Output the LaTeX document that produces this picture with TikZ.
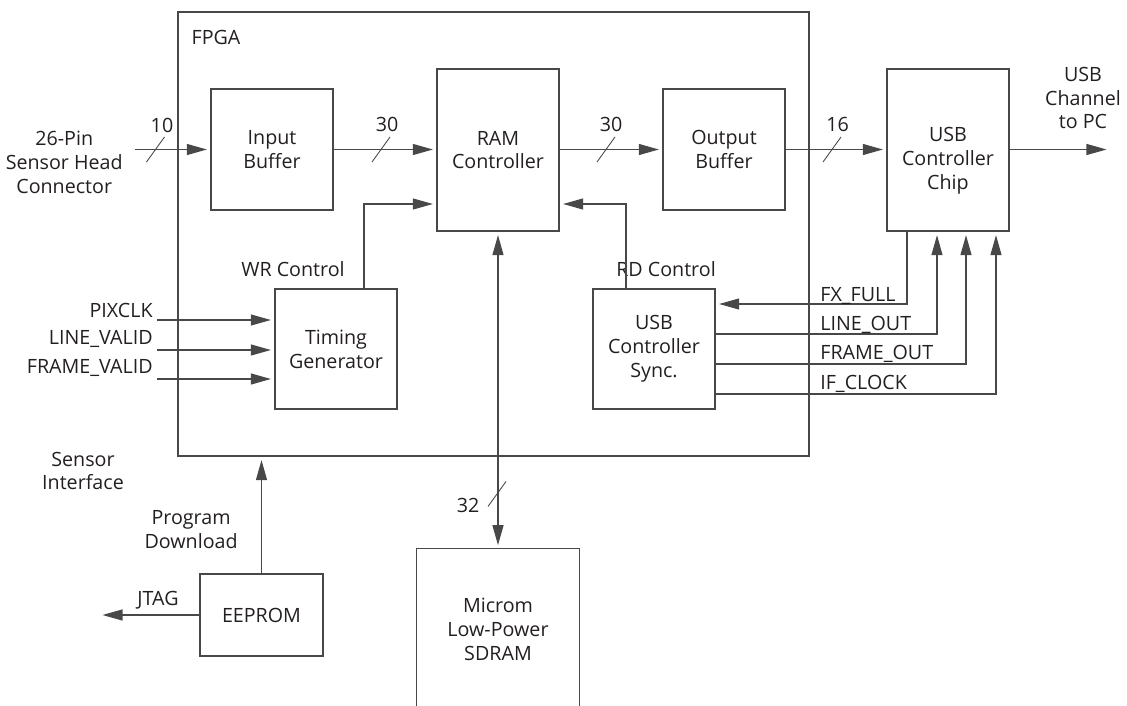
\documentclass[tikz,border=0pt]{standalone}
\usepackage{fontspec}
\setmainfont{Open Sans}
\usetikzlibrary{arrows.meta}
\definecolor{linegray}{RGB}{72,72,72}
\definecolor{textblack}{RGB}{35,31,32}
\newcommand{\blkfont}{\fontsize{11.2}{13.6}\selectfont}
\tikzset{
	blk/.style={draw=linegray, line width=0.75pt, align=center, inner sep=0pt, text=textblack},
	lbl/.style={inner sep=0pt, align=center, text=textblack},
	sig/.style={draw=linegray, line width=0.7pt, -{Triangle[length=0.4cm,width=0.22cm]}, shorten >=2pt},
	buswidth/.pic={\draw[linegray, line width=0.5pt] (-9,12.5) -- (9,-12.5);}
}

\begin{document}
\begin{tikzpicture}[x=0.02cm, y=-0.02cm, font=\blkfont]
			\useasboundingbox (0,0) rectangle (1127,706);
			%FPGA
			\node[blk, minimum width=12.62cm, minimum height=8.88cm] (fpga) at (493.5,234) {};
			\node[lbl] (fpgatxt) at (216,37) {FPGA};
			%Top row
			\node[blk, minimum width=2.44cm, minimum height=2.42cm] (inbuf) at (272,149.5) {Input\\Buffer};
			\node[blk, minimum width=2.44cm, minimum height=3.24cm] (ram) at (498,150) {RAM\\Controller};
			\node[blk, minimum width=2.44cm, minimum height=2.42cm] (outbuf) at (724,149.5) {Output\\Buffer};
			\node[blk, minimum width=2.44cm, minimum height=3.24cm] (usbchip) at (948,150) {};
			\node[lbl] (usbchiptxt) at (948,161) {USB\\Controller\\Chip};
			%Control row
			\node[blk, minimum width=2.44cm, minimum height=2.4cm] (timing) at (336,349) {Timing\\Generator};
			\node[blk, minimum width=2.44cm, minimum height=2.4cm] (sync) at (654,349) {USB\\Controller\\Sync.};
			\node[lbl] (wrtxt) at (293,269) {WR Control};
			\node[lbl] (rdtxt) at (666,269) {RD Control};
			%Outside
			\node[blk, minimum width=2.46cm, minimum height=1.64cm] (eeprom) at (261.5,615) {EEPROM};
			\node[lbl, minimum width=3.24cm, minimum height=3.2cm] (sdram) at (498,629) {Microm\\Low-Power\\SDRAM};
			\draw[linegray, line width=0.75pt] (sdram.south west) -- (sdram.north west) -- (sdram.north east) -- (sdram.south east);
			
			%Data path
			\coordinate (sensin) at (135,149.5);
			\coordinate (usbout) at (1110,149.5);
			\draw[sig] (sensin) -- (inbuf.west);
			\draw[sig] (inbuf.east) -- (inbuf.east -| ram.west);
			\draw[sig] (ram.east |- outbuf.west) -- (outbuf.west);
			\draw[sig] (outbuf.east) -- (outbuf.east -| usbchip.west);
			\draw[sig] (usbchip.east |- usbout) -- (usbout);
			\pic at (155.5,149.5) {buswidth};
			\pic at (381,149.5) {buswidth};
			\pic at (606,149.5) {buswidth};
			\pic at (832,149.5) {buswidth};
			\node[lbl] (w10) at (162,125) {10};
			\node[lbl] (w30a) at (387,124) {30};
			\node[lbl] (w30b) at (611,124) {30};
			\node[lbl] (w16) at (837.5,124) {16};
			\node[lbl, anchor=east] (senstxt) at (123,162) {26-Pin\\Sensor Head\\Connector};
			\node[lbl] (usbouttxt) at (1083,98) {USB\\Channel\\to PC};
			
			%WR / RD control
			\coordinate (wrbend) at (364,204);
			\coordinate (rdbend) at (626,204);
			\draw[sig] (timing.north -| wrbend) |- (ram.west |- wrbend);
			\draw[sig] (sync.north -| rdbend) |- (ram.east |- rdbend);
			
			%SDRAM bus
			\draw[sig, {Triangle[length=0.4cm,width=0.22cm]}-{Triangle[length=0.4cm,width=0.22cm]}, shorten <=2pt] (ram.south) -- (sdram.north);
			\pic at (497,494) {buswidth};
			\node[lbl] (w32) at (468,505) {32};
			
			%Sensor inputs
			\coordinate (pixclk) at (157,320);
			\coordinate (lineval) at (157,350);
			\coordinate (frameval) at (157,379);
			\draw[sig] (pixclk) -- (pixclk -| timing.west);
			\draw[sig] (lineval) -- (lineval -| timing.west);
			\draw[sig] (frameval) -- (frameval -| timing.west);
			\node[lbl, anchor=east] (pixclktxt) at (153,310) {PIXCLK};
			\node[lbl, anchor=east] (linevaltxt) at (153,339) {LINE\_VALID};
			\node[lbl, anchor=east] (framevaltxt) at (153,368) {FRAME\_VALID};
			\node[lbl] (sensiftxt) at (83,471) {Sensor\\Interface};
			
			%USB handshake
			\coordinate (fxbend) at (907,304);
			\coordinate (lobend) at (937,334);
			\coordinate (fobend) at (966,364);
			\coordinate (ifbend) at (996,394);
			\draw[sig] (usbchip.south -| fxbend) |- (sync.east |- fxbend);
			\draw[sig] (sync.east |- lobend) -| (usbchip.south -| lobend);
			\draw[sig] (sync.east |- fobend) -| (usbchip.south -| fobend);
			\draw[sig] (sync.east |- ifbend) -| (usbchip.south -| ifbend);
			\node[lbl, anchor=base west] (fxtxt) at (820,301) {FX\_FULL};
			\node[lbl, anchor=base west] (lotxt) at (820,330) {LINE\_OUT};
			\node[lbl, anchor=base west] (fotxt) at (820,359) {FRAME\_OUT};
			\node[lbl, anchor=base west] (iftxt) at (820,389) {IF\_CLOCK};
			
			%Program download
			\coordinate (jtag) at (99,615);
			\draw[sig] (eeprom.north) -- (eeprom.north |- fpga.south);
			\draw[sig] (eeprom.west) -- (jtag);
			\node[lbl, anchor=east] (progtxt) at (238,530) {Program\\Download};
			\node[lbl] (jtagtxt) at (158,600) {JTAG};
			
\end{tikzpicture}
\end{document}
